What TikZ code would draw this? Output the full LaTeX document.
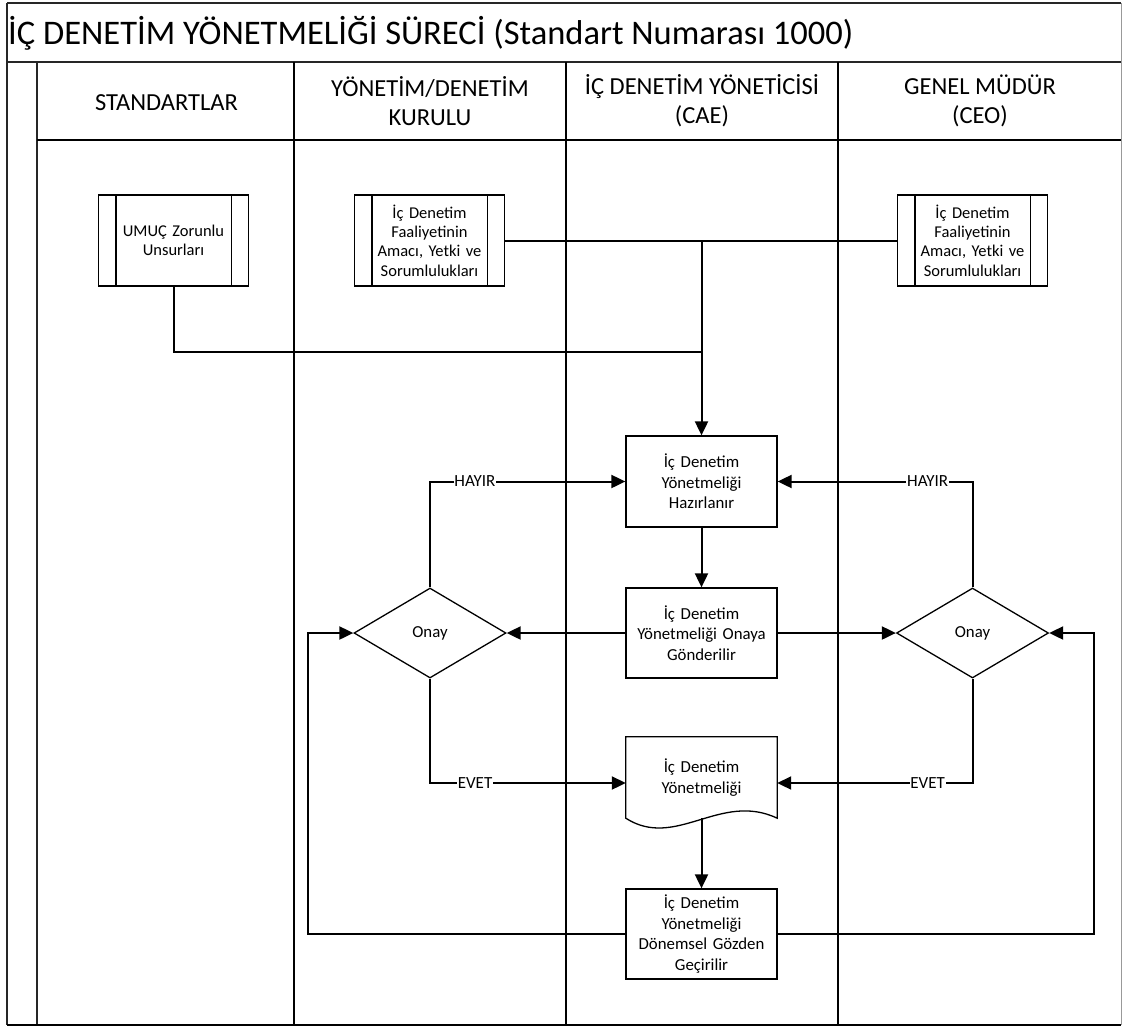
\documentclass[tikz,border=0pt]{standalone}
\usepackage{fontspec}
\setmainfont{Carlito}
\usetikzlibrary{arrows.meta,calc,shapes.geometric}

\begin{document}
\begin{tikzpicture}[x=1pt,y=-1pt,
  frameline/.style={line width=1.2pt, draw=black!85},
  laneline/.style={line width=1.8pt},
  hdr/.style={font=\fontsize{24.5}{29}\selectfont, align=center, inner sep=0pt},
  subproc/.style={draw, line width=1.3pt, minimum width=150pt, minimum height=91pt,
    inner sep=0pt, align=center, text width=114pt, font=\fontsize{16.5}{19.3}\selectfont},
  proc/.style={draw, line width=1.3pt, minimum width=151pt, minimum height=91pt,
    inner sep=0pt, align=center, text width=147pt, font=\fontsize{16.8}{20.5}\selectfont},
  decision/.style={diamond, draw, line width=1.3pt, minimum width=152pt, minimum height=90pt,
    inner sep=0pt, font=\fontsize{16.8}{20}\selectfont},
  docbox/.style={minimum width=151pt, minimum height=81pt, inner sep=0pt, align=center,
    text width=147pt, font=\fontsize{16.8}{20.5}\selectfont},
  conn/.style={line width=2pt},
  arr/.style={conn, -{Triangle[length=14pt,width=13pt]}},
  lbl/.style={fill=white, inner sep=0.8pt, font=\fontsize{17}{20}\selectfont}
]
\useasboundingbox (0,0) rectangle (1123,1028);

% ---------- pool frame, title band, header row and lanes ----------
\draw[frameline] (7,3) -- (1121,3);
\draw[frameline] (7,3) -- (7,1025);
\draw[line width=1pt, draw=black!40] (1121,3) -- (1121,1025);
\draw[frameline] (7,62) -- (1121,62);
\draw[frameline] (37,62) -- (37,1025);
\draw[laneline] (37,140) -- (1121,140);
\foreach \x in {294,566,838} \draw[laneline] (\x,62) -- (\x,1025);
\draw[line width=2.4pt] (7,1025) -- (1121,1025);

\node[anchor=west, inner sep=0pt, font=\fontsize{34.5}{38}\selectfont] (title) at (8,33)
  {İÇ DENETİM YÖNETMELİĞİ SÜRECİ (Standart Numarası 1000)};

\node[hdr] (h1) at (166.5,103) {STANDARTLAR};
\node[hdr] (h2) at (430,101) {YÖNETİM/DENETİM\\KURULU};
\node[hdr] (h3) at (702,101) {İÇ DENETİM YÖNETİCİSİ\\(CAE)};
\node[hdr] (h4) at (980,101) {GENEL MÜDÜR\\(CEO)};

% ---------- inputs (predefined processes) ----------
\node[subproc] (umuc) at (173.5,240.5) {UMUÇ Zorunlu\\Unsurları};
\node[subproc] (faal1) at (429.5,240.5) {İç Denetim\\Faaliyetinin\\Amacı, Yetki ve\\Sorumlulukları};
\node[subproc] (faal2) at (972.5,240.5) {İç Denetim\\Faaliyetinin\\Amacı, Yetki ve\\Sorumlulukları};
\foreach \n in {umuc,faal1,faal2} {
  \draw[line width=1.3pt] ([xshift=18pt]\n.north west) -- ([xshift=18pt]\n.south west);
  \draw[line width=1.3pt] ([xshift=-18pt]\n.north east) -- ([xshift=-18pt]\n.south east);
}

% ---------- process steps ----------
\node[proc] (hazir) at (701.5,481.5) {İç Denetim\\Yönetmeliği\\Hazırlanır};
\node[proc, minimum height=90pt] (onaya) at (701.5,633) {İç Denetim\\Yönetmeliği Onaya\\Gönderilir};
\node[decision] (d1) at (430,633) {Onay};
\node[decision] (d2) at (972.5,633) {Onay};

\node[docbox] (doc) at (701.5,777.5) {İç Denetim\\Yönetmeliği};
\draw[line width=1.3pt] (doc.south east)
  .. controls ($(doc.south east)+(-57,-27)$) and ($(doc.south west)+(50,32)$) .. (doc.south west)
  -- (doc.north west) -- (doc.north east) -- cycle;

\node[proc, minimum height=90pt] (review) at (701.5,934)
  {İç Denetim\\Yönetmeliği\\Dönemsel Gözden\\Geçirilir};

% ---------- connectors ----------
\draw[conn] (faal1.east) -- (faal2.west);
\draw[arr] (faal1.east) -| (hazir.north);
\draw[conn] (umuc.south) |- ($(hazir.north)+(0,-83)$);

\draw[arr] (hazir) -- (onaya);
\draw[arr] (onaya.west) -- (d1.east);
\draw[arr] (onaya.east) -- (d2.west);

\draw[arr] (d1.north) |- node[lbl, pos=0.615] {HAYIR} (hazir.west);
\draw[arr] (d2.north) |- node[lbl, pos=0.615] {HAYIR} (hazir.east);
\draw[arr] (d1.south) |- node[lbl, pos=0.615] {EVET} ([yshift=-5.5pt]doc.west);
\draw[arr] (d2.south) |- node[lbl, pos=0.615] {EVET} ([yshift=-5.5pt]doc.east);

\draw[arr] (doc.south) -- (review.north);
\draw[arr] (review.west) -| ([xshift=-45pt]d1.west) -- (d1.west);
\draw[arr] (review.east) -| ([xshift=45pt]d2.east) -- (d2.east);
\end{tikzpicture}
\end{document}
